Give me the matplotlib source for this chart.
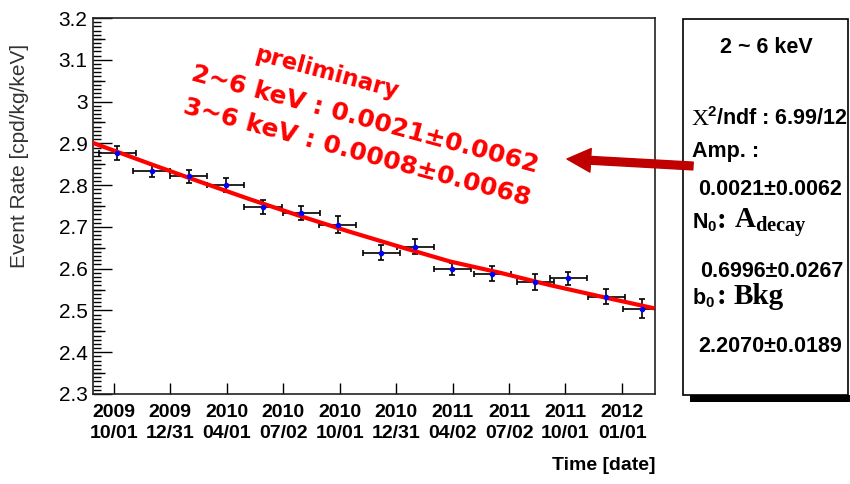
import matplotlib
matplotlib.use('Agg')
import matplotlib.pyplot as plt
import matplotlib.dates as mdates
import matplotlib.font_manager as fm
from matplotlib.patches import Rectangle, FancyArrowPatch
from matplotlib.ticker import FixedLocator, MultipleLocator, FuncFormatter
import numpy as np

# binned event rate (2~6 keV)
dates = ['2009-10-06', '2009-12-01', '2010-01-30', '2010-03-31', '2010-05-30',
         '2010-07-31', '2010-09-28', '2010-12-07', '2011-01-31', '2011-04-01',
         '2011-06-05', '2011-08-13', '2011-10-06', '2011-12-06', '2012-02-02']
rate = [2.877, 2.834, 2.821, 2.800, 2.747, 2.733, 2.705, 2.638, 2.653, 2.599,
        2.588, 2.568, 2.577, 2.533, 2.504]
rate_err = [0.017, 0.014, 0.016, 0.016, 0.017, 0.017, 0.020, 0.018, 0.017, 0.015,
            0.018, 0.020, 0.016, 0.018, 0.023]
bin_half = 30  # days

# fitted curve
fit_dates = ['2009-08-28', '2009-11-28', '2010-02-17', '2010-05-09', '2010-07-29',
             '2010-10-18', '2011-01-07', '2011-03-29', '2011-06-18', '2011-09-05',
             '2011-11-25', '2012-02-19']
fit_rate = [2.901, 2.851, 2.808, 2.766, 2.726, 2.688, 2.652, 2.617, 2.590, 2.561,
            2.534, 2.506]

tick_dates = ['2009-10-01', '2009-12-31', '2010-04-01', '2010-07-02', '2010-10-01',
              '2010-12-31', '2011-04-02', '2011-07-02', '2011-10-01', '2012-01-01']
tick_labels = ['2009\n10/01', '2009\n12/31', '2010\n04/01', '2010\n07/02', '2010\n10/01',
               '2010\n12/31', '2011\n04/02', '2011\n07/02', '2011\n10/01', '2012\n01/01']

red_lines = ['preliminary',
             '2~6 keV : 0.0021\u00b10.0062',
             '3~6 keV : 0.0008\u00b10.0068']

names = {f.name for f in fm.fontManager.ttflist}
sans = 'Liberation Sans'
narrow = 'Liberation Sans Narrow' if 'Liberation Sans Narrow' in names else sans
serif = 'Liberation Serif'
plt.rcParams['mathtext.default'] = 'regular'

W, H = 850, 484


def px(x, y):
    return x / W, 1 - y / H


fig = plt.figure(figsize=(8.5, 4.84), dpi=100)
ax = fig.add_axes([93 / W, 1 - 394 / H, 562 / W, 376 / H])

t = mdates.datestr2num(dates)
ax.errorbar(t, rate, xerr=bin_half, yerr=rate_err, fmt='none', ecolor='black',
            elinewidth=1.2, capsize=2, capthick=1.2, zorder=2)
ax.plot(mdates.datestr2num(fit_dates), fit_rate, color='red', lw=3, zorder=3)
ax.plot(t, rate, 'o', color='blue', ms=3, zorder=4)

ax.set_xlim(mdates.datestr2num('2009-08-28'), mdates.datestr2num('2012-02-23'))
ax.set_ylim(2.3, 3.2)

ax.xaxis.set_major_locator(FixedLocator(mdates.datestr2num(tick_dates)))
ax.set_xticklabels(tick_labels, fontfamily=narrow, fontweight='bold', fontsize=14,
                   linespacing=1.35)
ax.yaxis.set_major_locator(MultipleLocator(0.1))
ax.yaxis.set_minor_locator(MultipleLocator(0.01))
ax.yaxis.set_major_formatter(FuncFormatter(lambda v, p: '%g' % round(v, 2)))
for lab in ax.get_yticklabels():
    lab.set_fontfamily(sans)
ax.tick_params(axis='y', which='major', direction='in', length=14, width=1,
               labelsize=15, pad=4)
ax.tick_params(axis='y', which='minor', direction='in', length=5.5, width=1)
ax.tick_params(axis='x', which='major', direction='in', length=8, width=1, pad=7)
ax.tick_params(axis='x', which='minor', length=0)

# half-division ticks
sec = ax.secondary_yaxis('left')
sec.set_yticks(np.arange(2.35, 3.2, 0.1))
sec.set_yticklabels([])
sec.tick_params(direction='in', length=8.5, width=1)
sec.spines['left'].set_visible(False)

for s in ax.spines.values():
    s.set_linewidth(1.2)
    s.set_color('#222222')

fig.text(*px(20, 44), 'Event Rate [cpd/kg/keV]', rotation=90, ha='center', va='top',
         fontsize=15, color='#333333', fontfamily=sans)
fig.text(*px(655, 466), 'Time [date]', ha='right', va='center', fontsize=14,
         fontweight='bold', fontfamily=narrow)

# red annotation
red = dict(rotation=-15, rotation_mode='anchor', ha='left', va='baseline', color='red',
           fontweight='bold', fontfamily='DejaVu Sans')
fig.text(*px(253, 60), red_lines[0], fontsize=16.5, **red)
fig.text(*px(190, 80), red_lines[1], fontsize=18, **red)
fig.text(*px(182, 113), red_lines[2], fontsize=18, **red)

# fit result box
fig.add_artist(Rectangle(px(690, 402), 160 / W, 7 / H, transform=fig.transFigure,
                         fc='black', ec='none', zorder=5))
fig.add_artist(Rectangle(px(683, 395), 165 / W, 376 / H, transform=fig.transFigure,
                         fc='white', ec='black', lw=1.2, zorder=6))

bold = dict(fontfamily=sans, fontweight='bold', fontsize=15.5, va='baseline', zorder=7)
serif_bold = dict(fontfamily=serif, fontweight='bold', fontsize=21, va='baseline', zorder=7)
fig.text(*px(766, 53), '2 ~ 6 keV', ha='center', **bold)
fig.text(*px(691, 125), 'X', fontfamily=serif, fontsize=17, va='baseline', zorder=7)
fig.text(*px(707, 125), '${}^{2}$/ndf : 6.99/12', **bold)
fig.text(*px(692, 157), 'Amp. :', **bold)
fig.text(*px(698, 195), '0.0021\u00b10.0062', **bold)
fig.text(*px(692, 228), 'N$_{0}$', **bold)
fig.text(*px(717, 228), ':', **serif_bold)
fig.text(*px(734, 228), 'A$_{decay}$', **serif_bold)
fig.text(*px(700, 277), '0.6996\u00b10.0267', **bold)
fig.text(*px(692, 304), 'b$_{0}$', **bold)
fig.text(*px(717, 304), ':', **serif_bold)
fig.text(*px(734, 304), 'Bkg', **serif_bold)
fig.text(*px(698, 352), '2.2070\u00b10.0189', **bold)

arrow = FancyArrowPatch(px(693, 166), px(567, 159), transform=fig.transFigure,
                        arrowstyle='simple,head_length=1.0,head_width=1.0,tail_width=0.33',
                        mutation_scale=17, color='#c00000', shrinkA=0, shrinkB=0,
                        zorder=10)
fig.add_artist(arrow)

fig.savefig('out.png', dpi=100)
